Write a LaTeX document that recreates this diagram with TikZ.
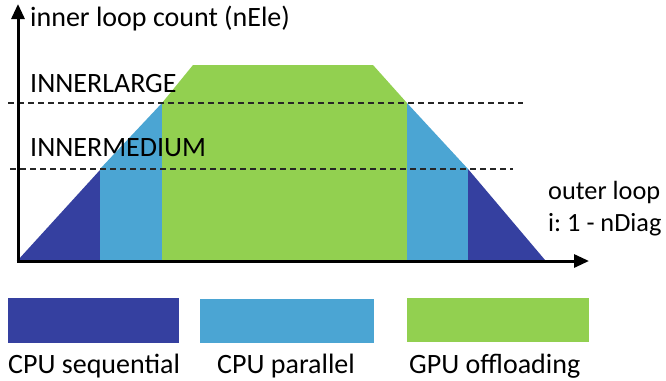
\documentclass[tikz,border=0pt]{standalone}
\usepackage{fontspec}
\setmainfont{Carlito}
\usetikzlibrary{arrows.meta}
\definecolor{seqblue}{HTML}{3540A0}
\definecolor{parblue}{HTML}{4BA5D3}
\definecolor{gpugreen}{HTML}{92D050}
\tikzset{
  lbl/.style={anchor=base west, inner sep=0pt, font=\fontsize{28}{32}\selectfont},
  axislbl/.style={lbl, font=\fontsize{26.3}{30}\selectfont},
  axis/.style={line width=3pt, -{Triangle[width=13pt,length=15pt]}},
  level/.style={line width=1.4pt, dash pattern=on 6pt off 4pt, black!85}
}
\begin{document}
\frenchspacing
\begin{tikzpicture}[x=1pt,y=-1pt]
\useasboundingbox (0,0) rectangle (666,380);
% regions of the execution strategy
\fill[seqblue] (18,260) -- (100,170) -- (100,260) -- cycle;
\fill[parblue] (100,260) -- (100,169) -- (162,103) -- (162,260) -- cycle;
\fill[gpugreen] (162,260) -- (162,103) -- (193,65) -- (373,65) -- (407,103) -- (407,260) -- cycle;
\fill[parblue] (407,103) -- (468,169) -- (468,260) -- (407,260) -- cycle;
\fill[seqblue] (468,169) -- (545,260) -- (468,260) -- cycle;
% threshold levels
\coordinate (largeL) at (8,103);
\coordinate (largeR) at (523,103);
\coordinate (medL) at (10,169);
\coordinate (medR) at (513,169);
\draw[level] (largeL) -- (largeR);
\draw[level] (medL) -- (medR);
% axes
\coordinate (origin) at (18,261);
\coordinate (ytip) at (18,4);
\coordinate (xtip) at (589,261);
\draw[axis] (origin) -- (ytip);
\draw[axis] ([xshift=-1.5pt]origin) -- (xtip);
% labels
\node[lbl] (ylabel) at (30,27) {inner loop count (nEle)};
\node[lbl] (large) at (30,92) {INNERLARGE};
\node[lbl] (medium) at (30,156) {INNERMEDIUM};
\node[axislbl] (xlabel1) at (548,199) {outer loop};
\node[axislbl] (xlabel2) at (548,231) {i: 1 - nDiag};
% legend
\fill[seqblue] (8,298) rectangle (179,343);
\fill[parblue] (200,299) rectangle (374,343);
\fill[gpugreen] (407,298) rectangle (589,342);
\node[lbl] (kseq) at (8,373) {CPU sequential};
\node[lbl] (kpar) at (217,373) {CPU parallel};
\node[lbl] (kgpu) at (409,373) {GPU offloading};
\end{tikzpicture}
\end{document}
